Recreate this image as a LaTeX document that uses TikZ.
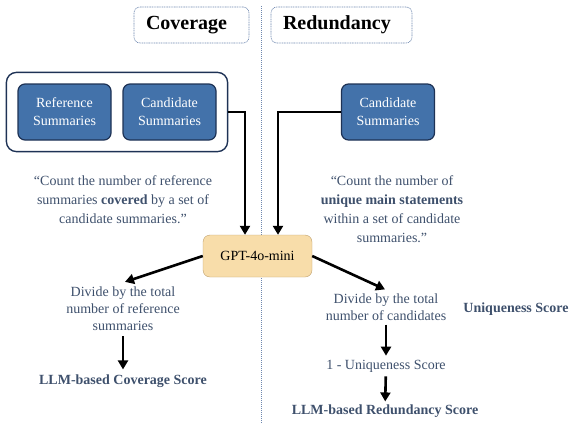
\documentclass[tikz,border=0pt]{standalone}
\usepackage{fontspec}
\setmainfont{Liberation Serif}
\usepackage{tikz}
\usetikzlibrary{calc,positioning,fit,arrows.meta}
\usepackage{xcolor}

\definecolor{sumblue}{RGB}{67,114,170}
\definecolor{sumnavy}{RGB}{30,50,85}
\definecolor{slate}{RGB}{62,80,108}
\definecolor{gptfill}{RGB}{248,221,170}
\definecolor{gptline}{RGB}{190,160,110}
\definecolor{headline}{RGB}{110,135,175}

\tikzset{
	sumbox/.style={draw=sumnavy, line width=1.2pt, fill=sumblue, rounded corners=7pt,
		minimum width=93pt, minimum height=56pt, text=white, align=center,
		font=\fontsize{14}{18}\selectfont},
	headbox/.style={draw=headline, line width=0.6pt, dash pattern=on 1pt off 0.7pt,
		rounded corners=6pt, minimum height=36pt, inner xsep=12pt, align=left,
		font=\fontsize{20}{24}\selectfont\bfseries},
	note/.style={text=slate, align=center, inner sep=2pt},
	arr/.style={line width=2.6pt, -{Triangle[length=9pt,width=10pt]}},
}

\begin{document}
\begin{tikzpicture}[x=1pt, y=-1pt]
		\useasboundingbox (0,0) rectangle (569,423);

		% headers and divider
		\node[headbox, text width=91pt] (hcov) at (191.5,25) {Coverage};
		\node[headbox, text width=117pt] (hred) at (341.5,25) {Redundancy};
		\draw [headline, line width=0.6pt, dash pattern=on 1pt off 1pt] (261,6) -- (261,423);

		% inputs
		\node[sumbox] (ref) at (64.5,112) {Reference\\Summaries};
		\node[sumbox] (candl) at (169.5,112) {Candidate\\Summaries};
		\node[sumbox] (candr) at (388,112) {Candidate\\Summaries};
		\node[draw=sumnavy, line width=1.4pt, rounded corners=10pt, inner sep=11pt, fit=(ref)(candl)] (grp) {};

		\node[draw=gptline, fill=gptfill, rounded corners=7pt, minimum width=109pt, minimum height=42pt,
			font=\fontsize{14}{17}\selectfont] (gpt) at (257.5,256) {GPT-4o-mini};

		\draw [arr] (grp.east |- candl) -| ($(gpt.north)+(-12.5,0)$);
		\draw [arr] (candr.west) -| ($(gpt.north)+(20.5,0)$);

		% prompts
		\node[note, font=\fontsize{14}{19}\selectfont] (qcov) at (123,200)
			{``Count the number of reference\\summaries \textbf{covered} by a set of\\candidate summaries.''};
		\node[note, font=\fontsize{14}{19}\selectfont] (qred) at (392,209)
			{``Count the number of\\\textbf{unique main statements}\\within a set of candidate\\summaries.''};

		% coverage branch
		\node[note, font=\fontsize{14}{17}\selectfont] (divcov) at (123,309)
			{Divide by the total\\number of reference\\summaries};
		\node[note, font=\fontsize{14}{17}\selectfont\bfseries] (covscore) at (123,381) {LLM-based Coverage Score};

		% redundancy branch
		\node[note, font=\fontsize{14}{17}\selectfont] (divred) at (386,307)
			{Divide by the total\\number of candidates};
		\node[note, font=\fontsize{14}{17}\selectfont\bfseries] (uniq) at (516,309) {Uniqueness Score};
		\node[note, font=\fontsize{14}{17}\selectfont] (onemin) at (386,366) {1 - Uniqueness Score};
		\node[note, font=\fontsize{14}{17}\selectfont\bfseries] (redscore) at (385,411) {LLM-based Redundancy Score};

		\draw [arr] (gpt.west) -- ($(divcov.north)+(2,-3)$);
		\draw [arr] (gpt.east) -- ($(divred.north)+(-1,-2)$);
		\draw [arr, shorten <=3pt, shorten >=3pt] (divcov) -- (covscore);
		\draw [arr, shorten <=2pt, shorten >=2pt] (divred) -- (onemin);
		\draw [arr, shorten <=2pt, shorten >=1pt] (onemin) -- (redscore);
	\end{tikzpicture}
\end{document}
